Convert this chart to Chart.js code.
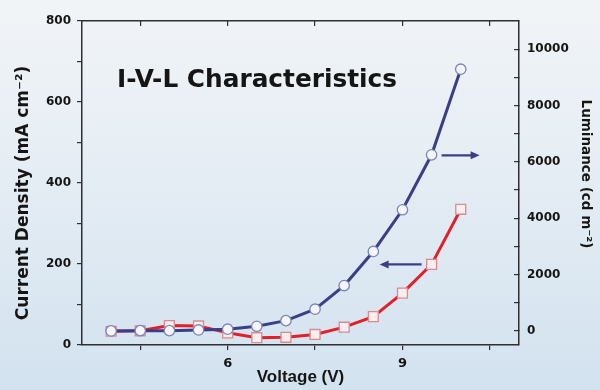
<!DOCTYPE html>
<html>
<head>
<meta charset="utf-8">
<script src="https://cdn.jsdelivr.net/npm/chart.js@4.4.0/dist/chart.umd.min.js"></script>
<style>
  html, body { margin: 0; padding: 0; }
  body {
    width: 600px; height: 390px; overflow: hidden;
    background: linear-gradient(to bottom, #f1f4f7 0%, #e5edf4 45%, #d2e2ef 100%);
  }
  canvas { display: block; }
</style>
</head>
<body>
<canvas id="ivl" width="600" height="390"></canvas>
<script>
// Device measurements: applied voltage (V), current density (mA/cm²), luminance (cd/m²)
const voltage        = [4, 4.5, 5, 5.5, 6, 6.5, 7, 7.5, 8, 8.5, 9, 9.5, 10];
const currentDensity = [34, 35, 48, 47, 30, 18, 19, 26, 44, 70, 128, 199, 335];
const luminance      = [0, 10, 10, 35, 60, 165, 365, 770, 1610, 2820, 4300, 6250, 9290];

// Tick positions and the subset that carries a label
const voltageTicks    = [4.5, 6, 7.5, 9, 10.5];
const voltageLabels   = [6, 9];
const currentTicks    = [0, 100, 200, 300, 400, 500, 600, 700, 800];
const currentLabels   = [0, 200, 400, 600, 800];
const luminanceTicks  = [0, 1000, 2000, 3000, 4000, 5000, 6000, 7000, 8000, 9000, 10000];
const luminanceLabels = [0, 2000, 4000, 6000, 8000, 10000];

const FRAME = '#2f2f33';
const NAVY = '#3c3f88';
const tickFont = { family: 'DejaVu Sans', weight: 'bold', size: 12 };

const useTicks = values => scale => { scale.ticks = values.map(v => ({ value: v })); };
const labelIf = list => v => (list.includes(v) ? String(v) : '');

function arrow(ctx, x0, y, length, dir) {
  const tip = x0 + dir * length;
  ctx.strokeStyle = NAVY;
  ctx.fillStyle = NAVY;
  ctx.lineWidth = 2.2;
  ctx.beginPath();
  ctx.moveTo(x0, y);
  ctx.lineTo(tip - dir * 6, y);
  ctx.stroke();
  ctx.beginPath();
  ctx.moveTo(tip, y);
  ctx.lineTo(tip - dir * 9, y - 4);
  ctx.lineTo(tip - dir * 9, y + 4);
  ctx.closePath();
  ctx.fill();
}

// Heading, axis captions and the arrows that tie each curve to its axis
const captions = {
  id: 'captions',
  afterDraw(chart) {
    const { ctx, chartArea: a, scales } = chart;
    ctx.save();
    ctx.fillStyle = '#151515';

    ctx.font = 'bold 24.8px "DejaVu Sans"';
    ctx.textAlign = 'left';
    ctx.textBaseline = 'alphabetic';
    ctx.fillText('I-V-L Characteristics', a.left + 35, a.top + 66);

    ctx.save();
    ctx.translate(24, (a.top + a.bottom) / 2 + 10);
    ctx.rotate(-Math.PI / 2);
    ctx.textAlign = 'center';
    ctx.textBaseline = 'middle';
    ctx.font = 'bold 17px "DejaVu Sans"';
    ctx.fillText('Current Density (mA cm\u207B\u00B2)', 0, 0);
    ctx.restore();

    ctx.save();
    ctx.translate(585, (a.top + a.bottom) / 2 - 9);
    ctx.rotate(Math.PI / 2);
    ctx.textAlign = 'center';
    ctx.textBaseline = 'middle';
    ctx.font = 'bold 13.5px "DejaVu Sans"';
    ctx.fillText('Luminance (cd m\u207B\u00B2)', 0, 0);
    ctx.restore();

    ctx.textAlign = 'center';
    ctx.textBaseline = 'middle';
    ctx.font = 'bold 17px "Liberation Sans"';
    ctx.fillText('Voltage (V)', (a.left + a.right) / 2, a.bottom + 32);

    const k = voltage.indexOf(9.5);
    const xs = scales.x.getPixelForValue(9.5);
    arrow(ctx, xs + 10, scales.y2.getPixelForValue(luminance[k]) + 0.5, 38, 1);
    arrow(ctx, xs - 10, scales.y.getPixelForValue(currentDensity[k]), 42, -1);
    ctx.restore();
  }
};

new Chart(document.getElementById('ivl'), {
  type: 'line',
  data: {
    datasets: [
      {
        label: 'Luminance',
        data: voltage.map((v, i) => ({ x: v, y: luminance[i] })),
        xAxisID: 'x', yAxisID: 'y2',
        borderColor: NAVY, borderWidth: 3, tension: 0,
        pointStyle: 'circle', pointRadius: 5.2,
        pointBorderColor: '#7c84b8', pointBackgroundColor: '#f4f6fb', pointBorderWidth: 1.3
      },
      {
        label: 'Current Density',
        data: voltage.map((v, i) => ({ x: v, y: currentDensity[i] })),
        xAxisID: 'x', yAxisID: 'y',
        borderColor: '#e2202c', borderWidth: 3, tension: 0,
        pointStyle: 'rect', pointRadius: 7,
        pointBorderColor: '#d98a90', pointBackgroundColor: '#fcedef', pointBorderWidth: 1.3
      }
    ]
  },
  options: {
    responsive: false,
    animation: false,
    devicePixelRatio: 1,
    layout: { padding: 0 },
    plugins: { legend: { display: false }, tooltip: { enabled: false } },
    scales: {
      x: {
        type: 'linear', position: 'bottom', min: 3.5, max: 11,
        afterBuildTicks: useTicks(voltageTicks),
        afterFit: s => { s.height = 45; },
        border: { color: FRAME, width: 1.5 },
        grid: { drawOnChartArea: false, tickLength: 5, color: FRAME, lineWidth: 1.2 },
        ticks: { font: { ...tickFont, size: 13 }, color: '#151515', padding: 6, maxRotation: 0, autoSkip: false, callback: labelIf(voltageLabels) }
      },
      xTop: {
        type: 'linear', position: 'top', min: 3.5, max: 11,
        afterBuildTicks: useTicks(voltageTicks),
        afterFit: s => { s.height = 21; },
        border: { color: FRAME, width: 1.5 },
        grid: { drawOnChartArea: false, tickLength: -5, color: FRAME, lineWidth: 1.2 },
        ticks: { display: false }
      },
      y: {
        type: 'linear', position: 'left', min: 0, max: 800,
        afterBuildTicks: useTicks(currentTicks),
        afterFit: s => { s.width = 82; },
        border: { color: FRAME, width: 1.5 },
        grid: { drawOnChartArea: false, tickLength: 5, color: FRAME, lineWidth: 1.2 },
        ticks: { font: tickFont, color: '#151515', padding: 6, autoSkip: false, callback: labelIf(currentLabels) }
      },
      y2: {
        type: 'linear', position: 'right', min: -500, max: 11000,
        afterBuildTicks: useTicks(luminanceTicks),
        afterFit: s => { s.width = 81; },
        border: { color: FRAME, width: 1.5 },
        grid: { drawOnChartArea: false, tickLength: -5, color: FRAME, lineWidth: 1.2 },
        ticks: { font: tickFont, color: '#151515', padding: 13, autoSkip: false, callback: labelIf(luminanceLabels) }
      }
    }
  },
  plugins: [captions]
});
</script>
</body>
</html>
